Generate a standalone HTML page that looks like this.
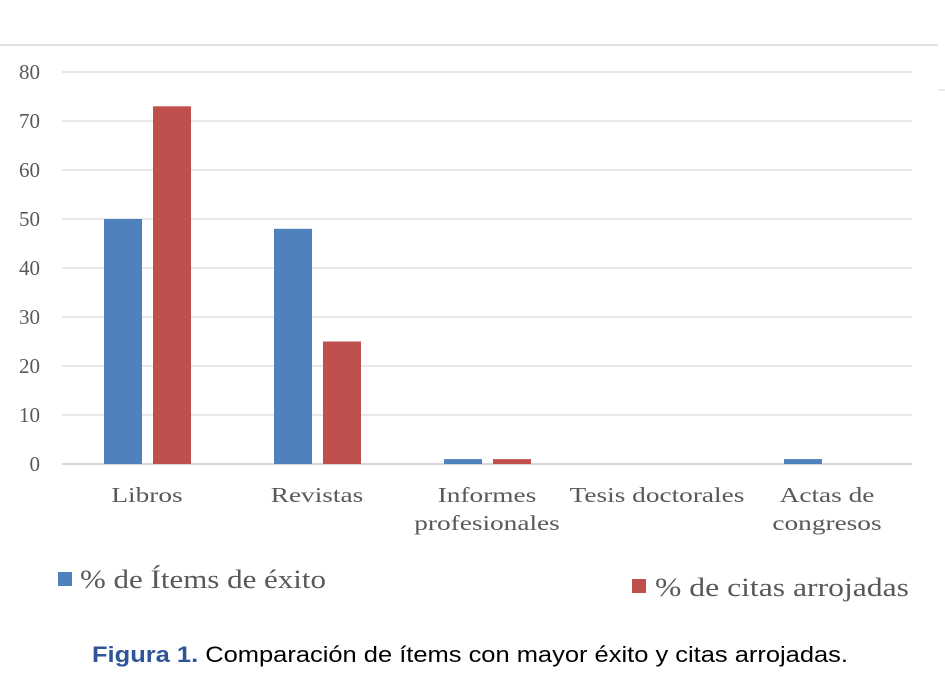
<!DOCTYPE html>
<html><head><meta charset="utf-8"><style>
body{margin:0;width:945px;height:695px;background:#fff;overflow:hidden;font-family:"Liberation Serif",serif}
svg{position:absolute;left:0;top:0}
</style></head><body>
<svg width="945" height="695">
<line x1="0" y1="45" x2="938" y2="45" stroke="#d9d9d9" stroke-width="1.5"/>
<line x1="938" y1="90" x2="945" y2="90" stroke="#d9d9d9"/>
<g id="grid"></g><g id="bars"></g><g id="labels"></g>
<g>
<rect x="58" y="572" width="14" height="14" fill="#4f81bd"/>
<text x="80" y="588" font-size="26" fill="#595959" textLength="246" lengthAdjust="spacingAndGlyphs">% de Ítems de éxito</text>
<rect x="632" y="579" width="14" height="14" fill="#c0504d"/>
<text x="655" y="596" font-size="26" fill="#595959" textLength="254" lengthAdjust="spacingAndGlyphs">% de citas arrojadas</text>
</g>
<text x="92" y="662" font-family="Liberation Sans, sans-serif" font-size="22" fill="#000" textLength="756" lengthAdjust="spacingAndGlyphs"><tspan font-weight="bold" fill="#2e5597">Figura 1.</tspan>  Comparación de ítems con mayor éxito y citas arrojadas.</text>
</svg>
<script>
const categories=[["Libros"],["Revistas"],["Informes","profesionales"],["Tesis doctorales"],["Actas de","congresos"]];
const itemsExito=[50,48,1,0,1];
const citasArrojadas=[73,25,1,0,0];
const yTicks=[0,10,20,30,40,50,60,70,80];
const NS="http://www.w3.org/2000/svg";
const x0=62,x1=912,yBase=464,yTop=72,yMax=80;
const y=v=>yBase-(v/yMax)*(yBase-yTop);
const band=(x1-x0)/categories.length;
const cx=i=>x0+band*(i+0.5);
function mk(tag,attrs,parent){const e=document.createElementNS(NS,tag);for(const k in attrs)e.setAttribute(k,attrs[k]);document.getElementById(parent).appendChild(e);return e;}
yTicks.forEach(t=>{
  const l=mk('line',{x1:x0,x2:x1,y1:y(t),y2:y(t),stroke:t===0?'#bfbfbf':'#d9d9d9','stroke-width':1.3},'grid');
  
  
  const tx=mk('text',{x:40,y:y(t)+7,'text-anchor':'end','font-size':21,fill:'#595959'},'grid');
  tx.textContent=t;
  
  
});
categories.forEach((c,i)=>{
  const b=mk('rect',{x:cx(i)-43,y:y(itemsExito[i]),width:38,height:yBase-y(itemsExito[i]),fill:'#4f81bd'},'bars');
  
  
  const r=mk('rect',{x:cx(i)+6,y:y(citasArrojadas[i]),width:38,height:yBase-y(citasArrojadas[i]),fill:'#c0504d'},'bars');
  
  
  c.forEach((line,j)=>{
    const t=mk('text',{x:cx(i),y:502+j*28,'text-anchor':'middle','font-size':21,fill:'#595959'},'labels');
    t.textContent=line;
    
    
    const w=t.getComputedTextLength();
    t.setAttribute('textLength',w*1.3);
    t.setAttribute('lengthAdjust','spacingAndGlyphs');
  });
});
</script>
</body></html>
